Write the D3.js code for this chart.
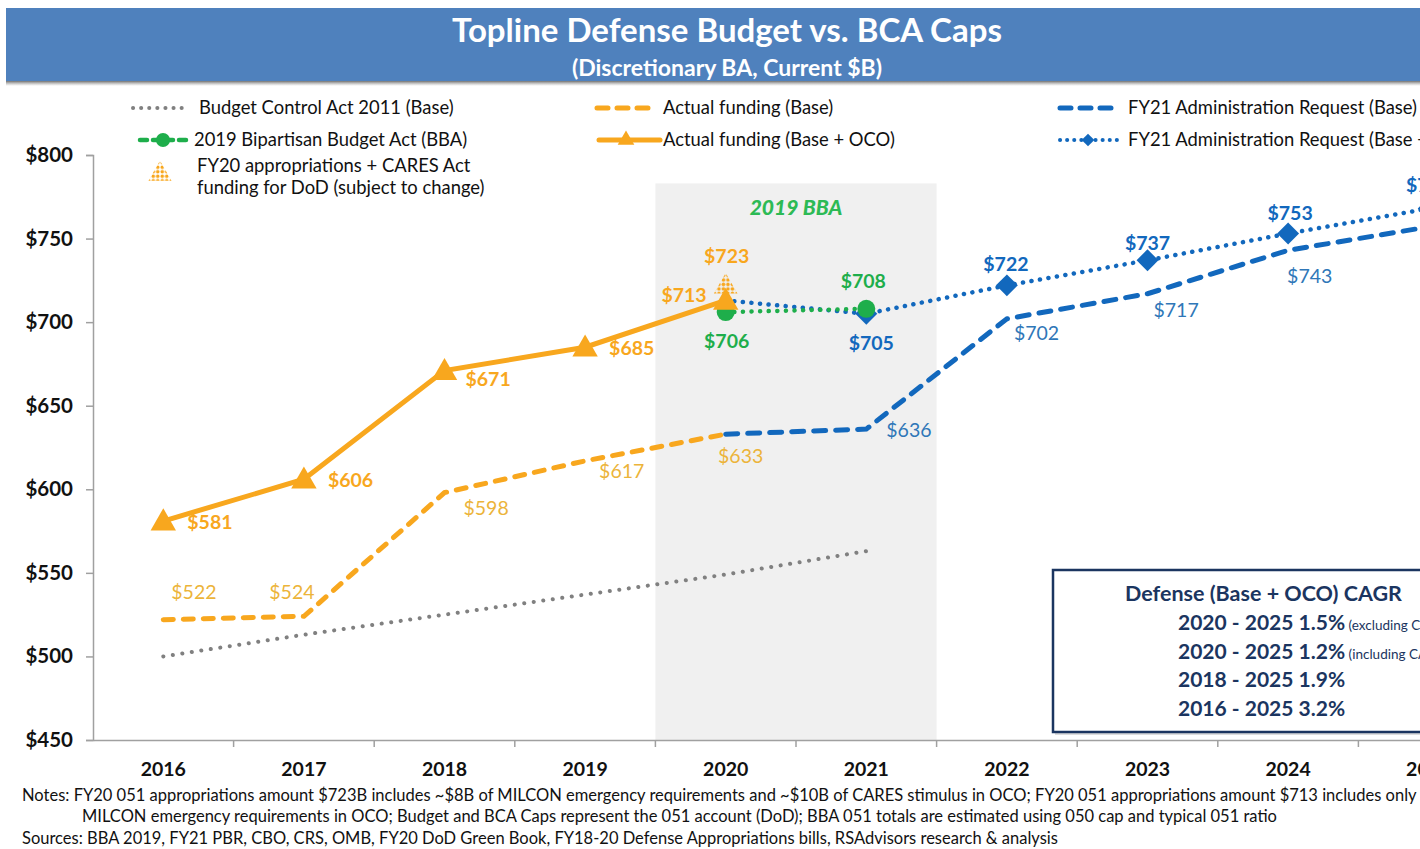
<!DOCTYPE html>
<html><head><meta charset="utf-8">
<script src="https://cdn.jsdelivr.net/npm/d3@7/dist/d3.min.js"></script>
<style>
html,body{margin:0;padding:0;background:#fff;overflow:hidden}
svg{display:block;font-family:Lato,"Open Sans",sans-serif}
</style></head>
<body><svg id="c" width="1420" height="849"></svg>
<script>
// ---------------- data ----------------
const years = ["2016","2017","2018","2019","2020","2021","2022","2023","2024","2025"];
const yTicks = [450,500,550,600,650,700,750,800];
const bcaYears = ["2016","2017","2018","2019","2020","2021"];
const bcaValues = [500,513,525,537,549,563];
const baseYears = ["2016","2017","2018","2019","2020"];
const baseValues = [522,524,598,617,633];
const totalYears = ["2016","2017","2018","2019","2020"];
const totalValues = [581,606,671,685,713];
const caresYears = ["2020"];
const caresValues = [723];
const bbaYears = ["2020","2021"];
const bbaValues = [706,708];
const reqYears = ["2020","2021","2022","2023","2024","2025"];
const reqBaseValues = [633,636,702,717,743,757];
const reqTotalValues = [713,705,722,737,753,768];
const cagrLines = ["2020 - 2025 1.5%","2020 - 2025 1.2%","2018 - 2025 1.9%","2016 - 2025 3.2%"];
const cagrNotes = ["(excluding CARES Act)","(including CARES Act)","",""];
const legendLabels = ["Budget Control Act 2011 (Base)","Actual funding (Base)","FY21 Administration Request (Base)",
  "2019 Bipartisan Budget Act (BBA)","Actual funding (Base + OCO)","FY21 Administration Request (Base + OCO)"];
const notes = [
 "Notes: FY20 051 appropriations amount $723B includes ~$8B of MILCON emergency requirements and ~$10B of CARES stimulus in OCO; FY20 051 appropriations amount $713 includes only ~$8B of",
 "MILCON emergency requirements in OCO; Budget and BCA Caps represent the 051 account (DoD); BBA 051 totals are estimated using 050 cap and typical 051 ratio",
 "Sources: BBA 2019, FY21 PBR, CBO, CRS, OMB, FY20 DoD Green Book, FY18-20 Defense Appropriations bills, RSAdvisors research & analysis"];

// ---------------- setup ----------------
const ORANGE="#F8A71E", ORANGE_L="#ECB43A", BLUE="#1268BD", BLUE_L="#2F77B8", GREEN="#1EAE4B", GREY="#808080", NAVY="#1B3560";
const svg = d3.select("#c");
const x = d3.scaleBand().domain(years).range([93, 93+140.6*10]).padding(0);
const cx = d => x(d)+x.bandwidth()/2;
const y = d3.scaleLinear().domain([450,800]).range([740,155]);
const zip = (ys,vs)=>ys.map((yr,i)=>({year:yr,value:vs[i]}));
const line = d3.line().x(d=>cx(d.year)).y(d=>y(d.value));

// defs
const defs = svg.append("defs");
const sh = defs.append("linearGradient").attr("id","sh").attr("x1",0).attr("x2",0).attr("y1",0).attr("y2",1);
sh.append("stop").attr("offset","0").attr("stop-color","#333").attr("stop-opacity",0.9);
sh.append("stop").attr("offset","1").attr("stop-color","#888").attr("stop-opacity",0);
const pat = defs.append("pattern").attr("id","dots").attr("width",4.5).attr("height",4.5).attr("patternUnits","userSpaceOnUse");
pat.append("circle").attr("cx",2.25).attr("cy",2.25).attr("r",1.8).attr("fill",ORANGE);

// title bar
svg.append("rect").attr("x",6).attr("y",80).attr("width",1414).attr("height",6).attr("fill","url(#sh)");
svg.append("rect").attr("x",6).attr("y",8).attr("width",1414).attr("height",73).attr("fill","#4F81BD");
svg.append("text").attr("x",727).attr("y",42).attr("text-anchor","middle").attr("fill","#fff")
  .attr("font-size",33).attr("font-weight","bold").text("Topline Defense Budget vs. BCA Caps");
svg.append("text").attr("x",727).attr("y",76).attr("text-anchor","middle").attr("fill","#fff")
  .attr("font-size",23).attr("font-weight","bold").text("(Discretionary BA, Current $B)");

// shaded BBA region
svg.append("rect").attr("x",x("2020")).attr("y",y(783)).attr("width",x.bandwidth()*2)
  .attr("height",y(450)-y(783)).attr("fill","#F0F0F0");
svg.append("text").attr("x",x("2021")).attr("y",215).attr("text-anchor","middle").attr("fill","#2DBA55")
  .attr("font-size",21).attr("font-weight","900").attr("font-style","italic").text("2019 BBA");

// axes
const axisCol="#A0A0A0";
const ya = svg.append("g").attr("transform","translate(93,0)")
  .call(d3.axisLeft(y).tickValues(yTicks).tickSize(7).tickPadding(13).tickFormat(d=>"$"+d));
ya.select(".domain").attr("stroke",axisCol).attr("stroke-width",1.5);
ya.selectAll(".tick line").attr("stroke",axisCol).attr("stroke-width",1.5);
ya.selectAll(".tick text").attr("font-size",20.5).attr("font-weight","bold").attr("fill","#111").attr("font-family","Lato");
const xa = svg.append("g").attr("transform","translate(0,740)")
  .call(d3.axisBottom(x).tickSize(0).tickPadding(22));
xa.select(".domain").attr("stroke",axisCol).attr("stroke-width",1.5);
xa.selectAll(".tick text").attr("font-size",19.5).attr("font-weight","bold").attr("fill","#111").attr("font-family","Lato");
svg.append("g").selectAll("line").data(years.slice(1)).join("line")
  .attr("x1",d=>x(d)).attr("x2",d=>x(d)).attr("y1",740).attr("y2",747).attr("stroke",axisCol).attr("stroke-width",1.5);

// lines
const g = svg.append("g").attr("fill","none").attr("stroke-linecap","round");
g.append("path").attr("d",line(zip(bcaYears,bcaValues))).attr("stroke",GREY).attr("stroke-width",4).attr("stroke-dasharray","0.1 9.5");
g.append("path").attr("d",line(zip(baseYears,baseValues))).attr("stroke",ORANGE).attr("stroke-width",5).attr("stroke-dasharray","10 10");
g.append("path").attr("d",line(zip(reqYears,reqBaseValues))).attr("stroke",BLUE).attr("stroke-width",5).attr("stroke-dasharray","12 10");
g.append("path").attr("d",line(zip(reqYears,reqTotalValues))).attr("stroke",BLUE).attr("stroke-width",4.5).attr("stroke-dasharray","0.1 8.5");
g.append("path").attr("d",line(zip(bbaYears,bbaValues))).attr("stroke",GREEN).attr("stroke-width",4.5).attr("stroke-dasharray","0.1 8.5");
g.append("path").attr("d",line(zip(totalYears,totalValues))).attr("stroke",ORANGE).attr("stroke-width",5);

// markers
const tri = d3.symbol().type(d3.symbolTriangle).size(280);
const dia = d3.symbol().type(d3.symbolSquare).size(240);
svg.append("g").selectAll("path").data(zip(reqYears,reqTotalValues).slice(1)).join("path")
  .attr("d",dia).attr("transform",d=>`translate(${cx(d.year)},${y(d.value)}) rotate(45)`).attr("fill",BLUE);
svg.append("g").selectAll("circle").data(zip(bbaYears,bbaValues)).join("circle")
  .attr("cx",d=>cx(d.year)).attr("cy",d=>y(d.value)).attr("r",9).attr("fill",GREEN);
svg.append("g").selectAll("path").data(zip(totalYears,totalValues)).join("path")
  .attr("d",tri).attr("transform",d=>`translate(${cx(d.year)},${y(d.value)+2})`).attr("fill",ORANGE);
svg.append("g").selectAll("path").data(zip(caresYears,caresValues)).join("path")
  .attr("d",d3.symbol().type(d3.symbolTriangle).size(240)).attr("transform",d=>`translate(${cx(d.year)},${y(d.value)+3})`).attr("fill","url(#dots)");

// labels
function labels(ys,vs,offs,color,bold){
  svg.append("g").selectAll("text").data(zip(ys,vs).map((d,i)=>({...d,o:offs[i]})).filter(d=>d.o))
   .join("text").attr("x",d=>cx(d.year)+d.o[0]).attr("y",d=>y(d.value)+d.o[1])
   .attr("text-anchor",d=>d.o[2]||"start").attr("fill",color).attr("font-size",19.5)
   .attr("font-weight",bold?"bold":"normal").text(d=>"$"+d.value);
}
labels(totalYears,totalValues,[[24,8],[24,8],[21,15],[24,8],[-19,2,"end"]],ORANGE,true);
labels(caresYears,caresValues,[[1,-21,"middle"]],ORANGE,true);
labels(baseYears,baseValues,[[8,-21],[-12,-17,"middle"],[19,22],[14,17],[15,29,"middle"]],ORANGE_L,false);
labels(reqYears,reqBaseValues,[null,[20,8],[7,21],[6,23],[-1,33],null],BLUE_L,false);
labels(reqYears,reqTotalValues,[null,[5,36,"middle"],[-1,-14,"middle"],[0,-10,"middle"],[2,-14,"middle"],[0,-16,"middle"]],BLUE,true);
labels(bbaYears,bbaValues,[[1,36,"middle"],[-3,-21,"middle"]],GREEN,true);

// legend
const lg = svg.append("g").attr("font-size",18.4).attr("fill","#111");
const rowY=[108,140];
const colX=[[133,188,199],[597,655,663],[1060,1117,1128]];
function lgLine(cX,ry,stroke,w,dash){
  lg.append("line").attr("x1",cX[0]).attr("x2",cX[1]).attr("y1",ry).attr("y2",ry).attr("stroke",stroke)
   .attr("stroke-width",w).attr("stroke-dasharray",dash).attr("stroke-linecap","round");
}
lgLine(colX[0],rowY[0],GREY,4,"0.1 8");
lgLine(colX[1],rowY[0],ORANGE,5,"11 9");
lgLine(colX[2],rowY[0],BLUE,5,"11 9");
lgLine([140,188],rowY[1],GREEN,4.5,"7 6");
lg.append("circle").attr("cx",163).attr("cy",rowY[1]).attr("r",7).attr("fill",GREEN);
lgLine([599,660],rowY[1],ORANGE,5,null);
lg.append("path").attr("d",d3.symbol().type(d3.symbolTriangle).size(120)).attr("transform",`translate(626,${rowY[1]})`).attr("fill",ORANGE);
lgLine(colX[2],rowY[1],BLUE,4,"0.1 7");
lg.append("path").attr("d",d3.symbol().type(d3.symbolSquare).size(80)).attr("transform",`translate(1088,${rowY[1]}) rotate(45)`).attr("fill",BLUE);
legendLabels.forEach((t,i)=>{
  const col=i%3,row=Math.floor(i/3);
  lg.append("text").attr("x",row===1&&col===0?194:colX[col][2]).attr("y",rowY[row]+6).text(t);
});
lg.append("path").attr("d",d3.symbol().type(d3.symbolTriangle).size(230)).attr("transform","translate(160,174)").attr("fill","url(#dots)");
lg.append("text").attr("x",197).attr("y",172).text("FY20 appropriations + CARES Act");
lg.append("text").attr("x",197).attr("y",194).text("funding for DoD (subject to change)");

// CAGR box
svg.append("rect").attr("x",1055).attr("y",573).attr("width",400).attr("height",162).attr("fill","#bbb").attr("opacity",0.5);
svg.append("rect").attr("x",1053).attr("y",570).attr("width",400).attr("height",162).attr("fill","#fff").attr("stroke",NAVY).attr("stroke-width",2.5);
svg.append("text").attr("x",1125).attr("y",601).attr("fill",NAVY).attr("font-size",21.5).attr("font-weight","bold").text("Defense (Base + OCO) CAGR");
cagrLines.forEach((t,i)=>{
  const tx=svg.append("text").attr("x",1178).attr("y",630+i*28.7).attr("fill",NAVY).attr("font-size",21).attr("font-weight","bold").text(t);
  if(cagrNotes[i]) tx.append("tspan").attr("font-size",13.5).attr("font-weight","normal").text(" "+cagrNotes[i]);
});

// notes
const nt = svg.append("g").attr("font-size",16.5).attr("fill","#111");
nt.append("text").attr("x",22).attr("y",801).text(notes[0]);
nt.append("text").attr("x",82).attr("y",822).text(notes[1]);
nt.append("text").attr("x",22).attr("y",844).text(notes[2]);
</script></body></html>
